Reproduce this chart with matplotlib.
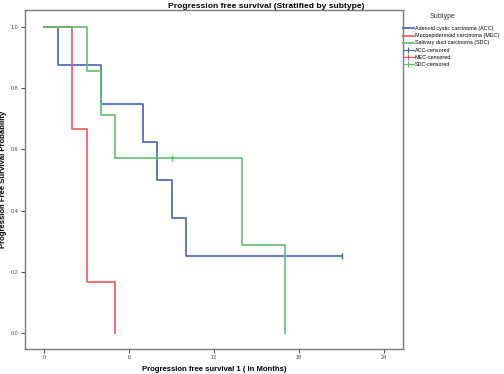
import matplotlib
matplotlib.use('Agg')
import matplotlib.pyplot as plt
from matplotlib.lines import Line2D

plt.rcParams['font.family'] = ['Liberation Sans', 'DejaVu Sans']

# Kaplan-Meier step data
acc_time = [0, 1, 4, 7, 8, 9, 10, 21]
acc_surv = [1.0, 0.875, 0.75, 0.625, 0.5, 0.375, 0.25, 0.25]
acc_cens_time = [21]
acc_cens_surv = [0.25]

mec_time = [0, 2, 3, 5]
mec_surv = [1.0, 0.667, 0.167, 0.0]

sdc_time = [0, 3, 4, 5, 14, 17]
sdc_surv = [1.0, 0.857, 0.714, 0.571, 0.286, 0.0]
sdc_cens_time = [9]
sdc_cens_surv = [0.571]

x_ticks = [0, 6, 12, 18, 24]
y_ticks = [0.0, 0.2, 0.4, 0.6, 0.8, 1.0]

blue = '#4463b4'
red = '#f05555'
green = '#5cbf6c'

fig = plt.figure(figsize=(5.04, 3.74), dpi=100)
ax = fig.add_axes([0.0496, 0.0668, 0.75, 0.9065])

ax.step(acc_time, acc_surv, where='post', color=blue, lw=1.2)
ax.step(mec_time, mec_surv, where='post', color=red, lw=1.2)
ax.step(sdc_time, sdc_surv, where='post', color=green, lw=1.2)
ax.plot(acc_cens_time, acc_cens_surv, ls='none', marker='|', ms=4, mew=1, color=blue)
ax.plot(sdc_cens_time, sdc_cens_surv, ls='none', marker='|', ms=4, mew=1, color=green)

ax.set_xlim(-1.34, 25.33)
ax.set_ylim(-0.053, 1.056)
ax.set_xticks(x_ticks)
ax.set_yticks(y_ticks)
ax.set_yticklabels(['%.1f' % v for v in y_ticks])
ax.tick_params(direction='out', length=3, width=0.8, labelsize=4,
               colors='#555555', labelcolor='#444444', pad=1.5)
for s in ax.spines.values():
    s.set_color('#777777')
    s.set_linewidth(1.0)

ax.set_xlabel('Progression free survival 1 ( In Months)', fontsize=5.6,
              fontweight='bold', labelpad=4)
ax.set_ylabel('Progression Free Survival Probability', fontsize=5.6,
              fontweight='bold', labelpad=3)
fig.text(0.528, 0.983, 'Progression free survival (Stratified by subtype)',
         ha='center', va='center', fontsize=6.1, fontweight='bold')
fig.text(0.879, 0.957, 'Subtype', ha='center', va='center', fontsize=5,
         color='#333333')

handles = [
    Line2D([0], [0], color=blue, lw=1.2),
    Line2D([0], [0], color=red, lw=1.2),
    Line2D([0], [0], color=green, lw=1.2),
    Line2D([0], [0], color=blue, lw=0.8, marker='|', ms=5, mew=0.8),
    Line2D([0], [0], color=red, lw=0.8, marker='|', ms=5, mew=0.8),
    Line2D([0], [0], color=green, lw=0.8, marker='|', ms=5, mew=0.8),
]
labels = ['Adenoid cystic carcinoma (ACC)', 'Mucoepidermoid carcinoma (MEC)',
          'Salivary duct carcinoma (SDC)', 'ACC-censored', 'MEC-censored',
          'SDC-censored']
leg = fig.legend(handles, labels, loc='upper left', bbox_to_anchor=(0.798, 0.931),
                 frameon=False, fontsize=3.9,
                 handlelength=2.0, handletextpad=0.2, labelspacing=0.38,
                 borderpad=0.1, borderaxespad=0)

fig.savefig('out.png', dpi=100)
